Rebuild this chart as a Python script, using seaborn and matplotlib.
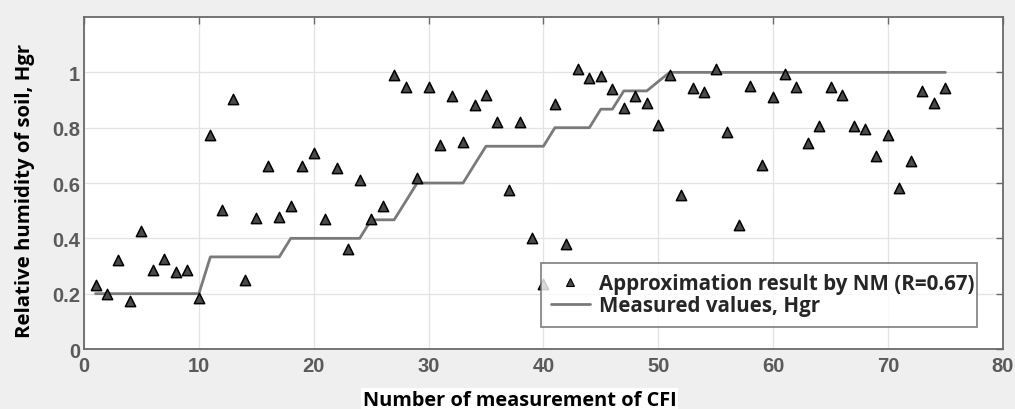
import matplotlib
matplotlib.use("Agg")
import matplotlib.pyplot as plt
import seaborn as sns
import pandas as pd
from matplotlib.lines import Line2D

# ---- data ----
measurement_no = list(range(1, 76))
approx_nm = [0.232, 0.198, 0.322, 0.173, 0.428, 0.284, 0.325, 0.278, 0.284, 0.184,
             0.773, 0.501, 0.902, 0.251, 0.473, 0.662, 0.477, 0.517, 0.662, 0.708,
             0.470, 0.655, 0.360, 0.610, 0.470, 0.518, 0.990, 0.948, 0.618, 0.948,
             0.737, 0.914, 0.749, 0.882, 0.918, 0.819, 0.574, 0.819, 0.403, 0.235,
             0.884, 0.380, 1.011, 0.981, 0.987, 0.940, 0.870, 0.913, 0.888, 0.809,
             0.990, 0.556, 0.944, 0.930, 1.011, 0.785, 0.447, 0.952, 0.664, 0.912,
             0.993, 0.948, 0.745, 0.807, 0.948, 0.918, 0.806, 0.797, 0.698, 0.775,
             0.583, 0.680, 0.934, 0.890, 0.944]
measured_hgr = [0.2] * 10 + [0.333] * 7 + [0.4] * 7 + [0.467] * 3 + [0.533] + [0.6] * 5 + \
               [0.667] + [0.733] * 6 + [0.8] * 4 + [0.867] * 2 + [0.933] * 3 + [0.967] + [1.0] * 25
legend_labels = ["Approximation result by NM (R=0.67)", "Measured values, Hgr"]
x_label = "Number of measurement of CFI"
y_label = "Relative humidity of soil, Hgr"
x_ticks = [0, 10, 20, 30, 40, 50, 60, 70, 80]
y_ticks = [0, 0.2, 0.4, 0.6, 0.8, 1.0]
y_tick_labels = ["0", "0.2", "0.4", "0.6", "0.8", "1"]

df = pd.DataFrame({"n": measurement_no, "approx": approx_nm, "measured": measured_hgr})

sns.set_theme(style="white")
plt.rcParams["font.family"] = ["Liberation Sans", "DejaVu Sans"]

fig = plt.figure(figsize=(10.15, 4.10), dpi=100, facecolor="#efefef")
ax = fig.add_axes([0.0828, 0.1463, 0.9052, 0.8097])
ax.set_facecolor("white")

sns.lineplot(data=df, x="n", y="measured", ax=ax, color="#7a7a7a", linewidth=2.0, zorder=2)
sns.scatterplot(data=df, x="n", y="approx", ax=ax, marker="^", s=55,
                color="#4a4a4a", edgecolor="black", linewidth=1.1, zorder=3)

ax.set_xlim(0, 80)
ax.set_ylim(0, 1.2)
ax.set_xticks(x_ticks)
ax.set_yticks(y_ticks)
ax.set_yticklabels(y_tick_labels)
ax.grid(True, color="#e3e3e3", linewidth=0.9)
ax.set_axisbelow(True)

for sp in ax.spines.values():
    sp.set_color("#6a6a6a")
    sp.set_linewidth(1.3)
    sp.set_visible(True)

ax.tick_params(axis="both", direction="in", length=5, width=1.0, color="#6a6a6a",
               top=True, right=True, labelsize=14.5, labelcolor="#5a5a5a")
ax.tick_params(axis="x", pad=5)
ax.tick_params(axis="y", pad=3)
for lab in ax.get_xticklabels() + ax.get_yticklabels():
    lab.set_fontweight("bold")

ax.set_xlabel(x_label, fontsize=14.4, fontweight="bold", family="Open Sans", color="black",
              va="center", bbox=dict(facecolor="white", edgecolor="none", pad=1))
ax.xaxis.set_label_coords(0.474, -0.153)
ax.set_ylabel(y_label, fontsize=14.7, fontweight="bold", family="Open Sans", color="black",
              va="center")
ax.yaxis.set_label_coords(-0.064, 0.479)

handles = [
    Line2D([], [], marker="^", linestyle="none", markersize=6, markerfacecolor="#4a4a4a",
           markeredgecolor="black", markeredgewidth=0.8),
    Line2D([], [], color="#7a7a7a", linewidth=2.0),
]
leg = ax.legend(handles, legend_labels, loc="lower left", bbox_to_anchor=(0.497, 0.067, 0.475, 0.197),
                mode="expand", frameon=True, fancybox=False, borderaxespad=0, handlelength=1.9,
                handletextpad=0.45, labelspacing=0.05, borderpad=0.5,
                prop={"family": "Open Sans", "weight": "bold", "size": 14.8})
leg.get_frame().set_edgecolor("#6a6a6a")
leg.get_frame().set_linewidth(1.3)
leg.set_zorder(5)

fig.savefig("out.png", dpi=100, facecolor=fig.get_facecolor())
